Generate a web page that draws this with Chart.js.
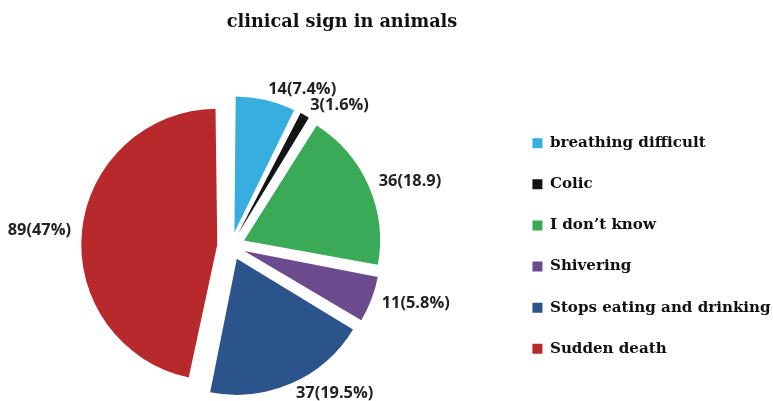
<!DOCTYPE html>
<html>
<head>
<meta charset="utf-8">
<script src="https://cdn.jsdelivr.net/npm/chart.js@4.4.1/dist/chart.umd.min.js"></script>
<style>
  html, body { margin: 0; padding: 0; background: #fff; overflow: hidden; }
  #wrap { width: 773px; height: 401px; overflow: hidden; }
  /* pie sits left of where Chart.js would centre it, so the canvas is a bit wider and pulled left */
  canvas { display: block; margin-left: -44px; }
</style>
</head>
<body>
<div id="wrap"><canvas id="chart" width="825" height="401"></canvas></div>
<script>
// clinical signs reported in animals
const signs = ['breathing difficult', 'Colic', 'I don\u2019t know', 'Shivering', 'Stops eating and drinking', 'Sudden death'];
const counts = [14, 3, 36, 11, 37, 89];
const shares = ['7.4%', '1.6%', '18.9', '5.8%', '19.5%', '47%'];
const sliceColors = ['#38aee0', '#141414', '#3aaa56', '#6c4a8e', '#2b538c', '#b8292b'];

const labelText = counts.map((c, i) => c + '(' + shares[i] + ')');

// Chart.js grows small exploded slices a little; keep every slice at the same radius
const evenSlices = {
    id: 'evenSlices',
    beforeDatasetsDraw(chart) {
        const meta = chart.getDatasetMeta(0);
        const base = meta.controller.outerRadius;
        meta.data.forEach(arc => {
            const off = (arc.options.offset || 0) / 4;
            const fix = 1 - Math.sin(Math.min(Math.PI, arc.circumference));
            arc.outerRadius = base - off * fix;
        });
    }
};

// value labels just outside each slice
const sliceLabels = {
    id: 'sliceLabels',
    afterDatasetsDraw(chart) {
        const ctx = chart.ctx;
        const meta = chart.getDatasetMeta(0);
        const base = meta.controller.outerRadius;
        ctx.save();
        ctx.font = 'bold 16.4px "Open Sans"';
        ctx.fillStyle = '#222';
        ctx.textBaseline = 'middle';
        meta.data.forEach((arc, i) => {
            const mid = (arc.startAngle + arc.endAngle) / 2;
            const r = base + arc.options.offset / 4 + 11;
            ctx.textAlign = Math.cos(mid) >= 0 ? 'left' : 'right';
            ctx.fillText(labelText[i], arc.x + Math.cos(mid) * r, arc.y + Math.sin(mid) * r);
        });
        ctx.restore();
    }
};

// title sits off-centre in the original, so draw it ourselves
const offsetTitle = {
    id: 'offsetTitle',
    afterDraw(chart, args, opts) {
        const ctx = chart.ctx;
        ctx.save();
        ctx.font = 'bold 17.7px "DejaVu Serif"';
        ctx.fillStyle = '#111';
        ctx.textAlign = 'center';
        ctx.textBaseline = 'middle';
        ctx.fillText(opts.text, opts.x, opts.y);
        ctx.restore();
    }
};

new Chart(document.getElementById('chart'), {
    type: 'pie',
    data: {
        labels: signs,
        datasets: [{
            data: counts,
            backgroundColor: sliceColors,
            borderWidth: 0,
            offset: 56,
            radius: 136
        }]
    },
    options: {
        responsive: false,
        animation: false,
        layout: {
            padding: { left: 0, right: 0.4, top: 91, bottom: 0 }
        },
        plugins: {
            title: { display: false },
            tooltip: { enabled: false },
            offsetTitle: { text: 'clinical sign in animals', x: 386, y: 22 },
            legend: {
                position: 'right',
                labels: {
                    boxWidth: 10,
                    boxHeight: 10,
                    padding: 26,
                    color: '#111',
                    font: { family: 'DejaVu Serif', weight: 'bold', size: 15.1 }
                }
            }
        }
    },
    plugins: [evenSlices, sliceLabels, offsetTitle]
});
</script>
</body>
</html>
